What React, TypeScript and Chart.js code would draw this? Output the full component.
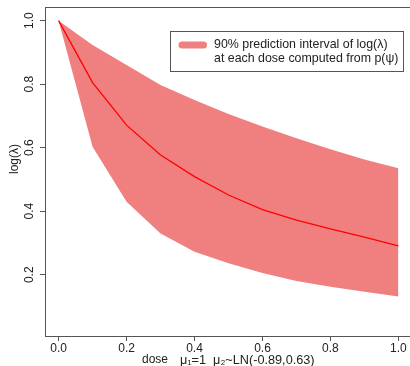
import React, { useEffect, useRef } from "react";
import { Chart, registerables } from "chart.js";

Chart.register(...registerables);

const doses = [0, 0.1, 0.2, 0.3, 0.4, 0.5, 0.6, 0.7, 0.8, 0.9, 1.0];
const lower90 = [1.0, 0.603, 0.43, 0.33, 0.272, 0.236, 0.205, 0.18, 0.162, 0.146, 0.131];
const upper90 = [1.0, 0.923, 0.86, 0.797, 0.75, 0.706, 0.667, 0.63, 0.595, 0.563, 0.535];
const median = [1.0, 0.805, 0.671, 0.577, 0.509, 0.451, 0.405, 0.372, 0.344, 0.318, 0.291];

const xTicks = [0, 0.2, 0.4, 0.6, 0.8, 1.0];
const yTicks = [0.2, 0.4, 0.6, 0.8, 1.0];

const legendLines = ["90% prediction interval of log(λ)", "at each dose computed from p(ψ)"];
const xTitle = "dose";
const xSubTitle = "μ₁=1  μ₂~LN(-0.89,0.63)";
const yTitle = "log(λ)";

const FONT = "'Liberation Sans', Arial, sans-serif";
const TEXT = "#222";
const AXIS = "#555";
const BAND = "#F08080";

const rPlugin = {
  id: "rDecor",
  afterDraw(chart: any) {
    const ctx = chart.ctx;
    const { left, top, right, bottom } = chart.chartArea;
    const ys = chart.scales.y;
    ctx.save();
    // box
    ctx.strokeStyle = AXIS;
    ctx.lineWidth = 1;
    ctx.strokeRect(left + 0.5, top + 0.5, right - left, bottom - top);
    // y tick labels, rotated
    ctx.fillStyle = TEXT;
    ctx.font = `12px ${FONT}`;
    ctx.textAlign = "center";
    ctx.textBaseline = "middle";
    yTicks.forEach((v) => {
      const y = ys.getPixelForValue(v);
      ctx.save();
      ctx.translate(30, y);
      ctx.rotate(-Math.PI / 2);
      ctx.fillText(v.toFixed(1), 0, 0);
      ctx.restore();
    });
    // y title
    ctx.save();
    ctx.translate(15, 159);
    ctx.rotate(-Math.PI / 2);
    ctx.fillText(yTitle, 0, 0);
    ctx.restore();
    // x titles
    ctx.textAlign = "left";
    ctx.fillText(xTitle, 142, 360);
    ctx.font = `12.7px ${FONT}`;
    ctx.fillText(xSubTitle, 180, 360);
    // legend
    const lx = 170, ly = 31, lw = 233, lh = 40;
    ctx.strokeStyle = AXIS;
    ctx.lineWidth = 1;
    ctx.strokeRect(lx + 0.5, ly + 0.5, lw, lh);
    ctx.strokeStyle = BAND;
    ctx.lineWidth = 7;
    ctx.lineCap = "round";
    ctx.beginPath();
    ctx.moveTo(182, 45);
    ctx.lineTo(203.5, 45);
    ctx.stroke();
    ctx.fillStyle = TEXT;
    ctx.font = `12.4px ${FONT}`;
    ctx.fillText(legendLines[0], 214, 45);
    ctx.fillText(legendLines[1], 214, 59);
    ctx.restore();
  },
};

export default function App() {
  const ref = useRef<HTMLCanvasElement>(null);
  useEffect(() => {
    if (!ref.current) return;
    const chart = new Chart(ref.current, {
      type: "line",
      data: {
        datasets: [
          {
            label: "median",
            data: doses.map((d, i) => ({ x: d, y: median[i] })),
            borderColor: "#FF0000",
            borderWidth: 1.3,
            pointRadius: 0,
            fill: false,
          },
          {
            label: "lower",
            data: doses.map((d, i) => ({ x: d, y: lower90[i] })),
            borderColor: "rgba(0,0,0,0)",
            borderWidth: 0,
            pointRadius: 0,
            fill: false,
          },
          {
            label: "upper",
            data: doses.map((d, i) => ({ x: d, y: upper90[i] })),
            borderColor: "rgba(0,0,0,0)",
            borderWidth: 0,
            pointRadius: 0,
            backgroundColor: BAND,
            fill: "-1",
          },
        ],
      },
      options: {
        responsive: false,
        animation: false,
        devicePixelRatio: 1,
        layout: { padding: { top: 7, right: 2, left: 0, bottom: 0 } },
        plugins: { legend: { display: false }, tooltip: { enabled: false } },
        scales: {
          x: {
            type: "linear",
            min: -0.04,
            max: 1.04,
            afterBuildTicks: (s: any) => {
              s.ticks = xTicks.map((v) => ({ value: v }));
            },
            afterFit: (s: any) => {
              s.height = 30;
            },
            grid: { display: true, drawOnChartArea: false, drawTicks: true, tickLength: 5, color: AXIS },
            border: { display: false },
            ticks: {
              font: { size: 12, family: FONT },
              color: TEXT,
              padding: 0,
              maxRotation: 0,
              autoSkip: false,
              callback: (v: any) => Number(v).toFixed(1),
            },
          },
          y: {
            type: "linear",
            min: 0.007,
            max: 1.043,
            afterBuildTicks: (s: any) => {
              s.ticks = yTicks.map((v) => ({ value: v }));
            },
            afterFit: (s: any) => {
              s.width = 45;
            },
            grid: { display: true, drawOnChartArea: false, drawTicks: true, tickLength: 5, color: AXIS },
            border: { display: false },
            ticks: { display: false },
          },
        },
      },
      plugins: [rPlugin],
    });
    return () => chart.destroy();
  }, []);
  return (
    <div style={{ position: "fixed", left: 0, top: 0, width: 410, height: 366, overflow: "hidden", background: "#fff" }}>
      <canvas ref={ref} width={414} height={366} style={{ display: "block", width: 414, height: 366 }} />
    </div>
  );
}
